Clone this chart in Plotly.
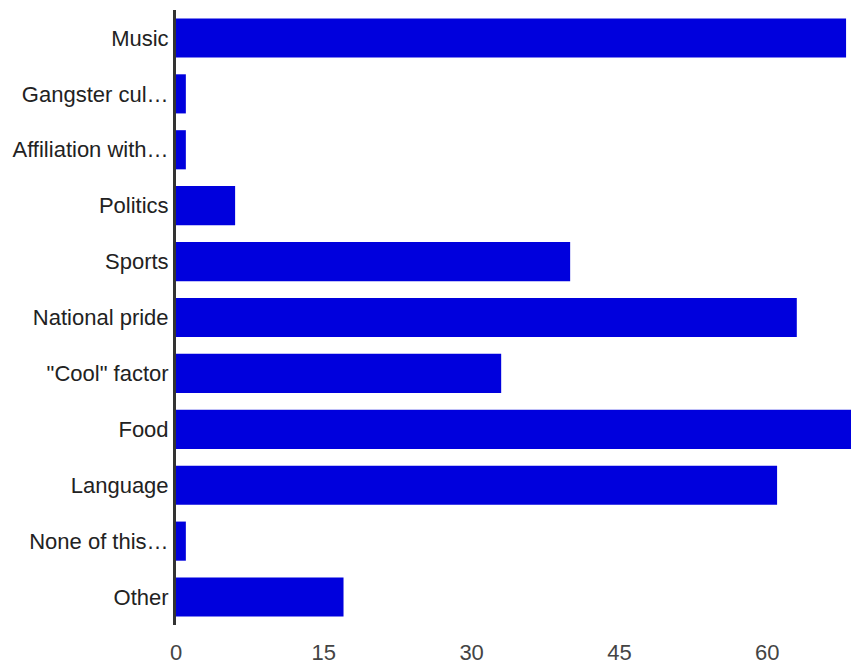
import plotly.graph_objects as go

categories = ["Music", "Gangster cul…", "Affiliation with…", "Politics", "Sports",
              "National pride", "\"Cool\" factor", "Food", "Language", "None of this…", "Other"]
values = [68, 1, 1, 6, 40, 63, 33, 69, 61, 1, 17]
x_ticks = [0, 15, 30, 45, 60]

fig = go.Figure(go.Bar(
    x=values, y=categories, orientation="h",
    marker=dict(color="#0000dd", line=dict(width=0)),
    width=0.7,
))
fig.update_layout(
    width=851, height=667,
    margin=dict(l=176, r=0, t=10, b=42),
    plot_bgcolor="white", paper_bgcolor="white",
    font=dict(family="Liberation Sans, Arial, sans-serif", size=22, color="#222"),
    showlegend=False,
)
fig.update_xaxes(range=[0, 68.5], tickvals=x_ticks, showgrid=False, zeroline=False,
                 showline=False, ticks="", tickfont=dict(color="#444", size=22), ticklabelstandoff=12)
fig.update_yaxes(autorange="reversed", showgrid=False, zeroline=False, showline=True,
                 linecolor="#333", linewidth=3, ticks="", ticklabelstandoff=0,
                 categoryorder="array", categoryarray=categories,
                 tickfont=dict(color="#222", size=22))
fig.write_html("out.html", config={"displayModeBar": False},
               post_script="document.body.style.margin='0';document.body.style.overflow='hidden';")
